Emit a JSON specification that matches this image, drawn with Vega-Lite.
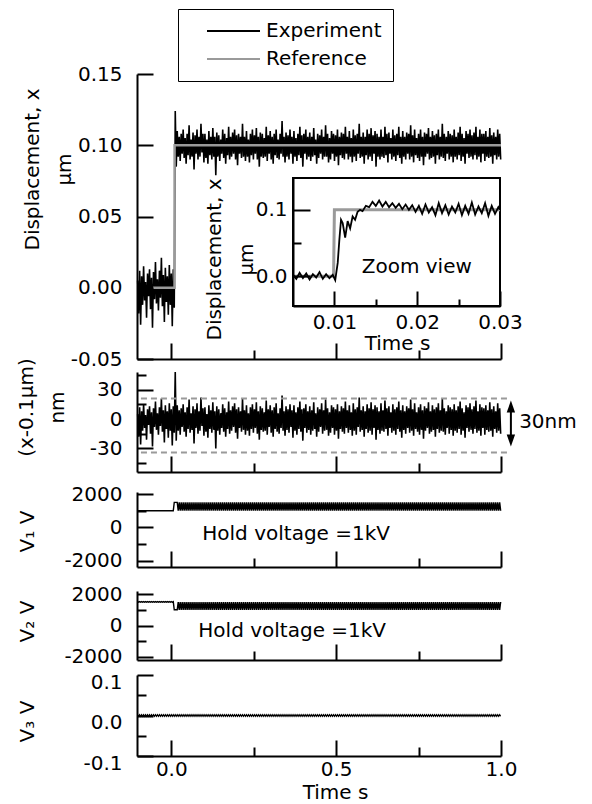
{
"$schema":"https://vega.github.io/schema/vega-lite/v6.json",
"padding":{"left":15,"top":8,"right":5,"bottom":5},
"config":{"font":"DejaVu Sans","view":{"stroke":null},
 "axis":{"domainColor":"black","domainWidth":2,"tickColor":"black","tickWidth":2,"labelColor":"black","labelFontSize":20,"labelFont":"DejaVu Sans","titleFont":"DejaVu Sans","titleFontSize":20,"titleFontWeight":"normal","titleColor":"black","grid":false,"labelFlush":false,"labelOverlap":false},
 "text":{"font":"DejaVu Sans","fontSize":20,"color":"black"}},
"datasets":{
 "ref":[{"t":-0.055,"x":0},{"t":0.0099,"x":0},{"t":0.01,"x":0.1},{"t":1,"x":0.1}],
 "zref":[{"t":0.005,"x":0},{"t":0.0099,"x":0},{"t":0.01,"x":0.1},{"t":0.03,"x":0.1}],
 "zoom":[{"t":0.005,"x":0.002},{"t":0.0054,"x":-0.004},{"t":0.0058,"x":0.005},{"t":0.0062,"x":-0.003},{"t":0.0066,"x":0.004},{"t":0.007,"x":-0.005},{"t":0.0074,"x":0.003},{"t":0.0078,"x":-0.002},{"t":0.0082,"x":0.006},{"t":0.0086,"x":-0.004},{"t":0.009,"x":0.003},{"t":0.0094,"x":-0.003},{"t":0.0098,"x":0.002},{"t":0.0101,"x":-0.006},{"t":0.0104,"x":0.02},{"t":0.0106,"x":0.055},{"t":0.0108,"x":0.085},{"t":0.011,"x":0.08},{"t":0.0113,"x":0.058},{"t":0.0116,"x":0.083},{"t":0.0119,"x":0.072},{"t":0.0122,"x":0.09},{"t":0.0125,"x":0.085},{"t":0.0128,"x":0.097},{"t":0.0131,"x":0.1},{"t":0.0134,"x":0.098},{"t":0.0138,"x":0.106},{"t":0.0142,"x":0.104},{"t":0.0146,"x":0.112},{"t":0.015,"x":0.106},{"t":0.0154,"x":0.114},{"t":0.0158,"x":0.105},{"t":0.0162,"x":0.112},{"t":0.0166,"x":0.104},{"t":0.017,"x":0.11},{"t":0.0174,"x":0.103},{"t":0.0178,"x":0.109},{"t":0.0182,"x":0.101},{"t":0.0186,"x":0.108},{"t":0.019,"x":0.1},{"t":0.0194,"x":0.107},{"t":0.0198,"x":0.097},{"t":0.0202,"x":0.106},{"t":0.0206,"x":0.094},{"t":0.021,"x":0.108},{"t":0.0214,"x":0.096},{"t":0.0218,"x":0.104},{"t":0.0222,"x":0.092},{"t":0.0226,"x":0.11},{"t":0.023,"x":0.095},{"t":0.0234,"x":0.107},{"t":0.0238,"x":0.093},{"t":0.0242,"x":0.105},{"t":0.0246,"x":0.096},{"t":0.025,"x":0.109},{"t":0.0254,"x":0.092},{"t":0.0258,"x":0.106},{"t":0.0262,"x":0.094},{"t":0.0266,"x":0.111},{"t":0.027,"x":0.093},{"t":0.0274,"x":0.105},{"t":0.0278,"x":0.095},{"t":0.0282,"x":0.11},{"t":0.0286,"x":0.091},{"t":0.029,"x":0.106},{"t":0.0294,"x":0.094},{"t":0.0298,"x":0.104},{"t":0.03,"x":0.1}]
},
"data":{"values":"t,x,e,a,b,c\n-0.102,0.005,5,1000,1520,0.002\n-0.099,-0.018,-18,1000,1480,-0.002\n-0.096,0.012,12,1000,1520,0.002\n-0.093,-0.026,-26,1000,1480,-0.002\n-0.09,0.008,8,1000,1520,0.002\n-0.087,-0.012,-12,1000,1480,-0.002\n-0.084,0.015,15,1000,1520,0.002\n-0.081,-0.009,-9,1000,1480,-0.002\n-0.078,0.004,4,1000,1520,0.002\n-0.075,-0.021,-21,1000,1480,-0.002\n-0.072,0.01,10,1000,1520,0.002\n-0.069,-0.006,-6,1000,1480,-0.002\n-0.066,0.013,13,1000,1520,0.002\n-0.063,-0.015,-15,1000,1480,-0.002\n-0.06,0.007,7,1000,1520,0.002\n-0.057,-0.028,-28,1000,1480,-0.002\n-0.054,0.011,11,1000,1520,0.002\n-0.051,-0.008,-8,1000,1480,-0.002\n-0.048,0.018,18,1000,1520,0.002\n-0.045,-0.011,-11,1000,1480,-0.002\n-0.042,0.006,6,1000,1520,0.002\n-0.039,-0.016,-16,1000,1480,-0.002\n-0.036,0.012,12,1000,1520,0.002\n-0.033,-0.007,-7,1000,1480,-0.002\n-0.03,0.021,21,1000,1520,0.002\n-0.027,-0.013,-13,1000,1480,-0.002\n-0.024,0.009,9,1000,1520,0.002\n-0.021,-0.024,-24,1000,1480,-0.002\n-0.018,0.014,14,1000,1520,0.002\n-0.015,-0.01,-10,1000,1480,-0.002\n-0.012,0.008,8,1000,1520,0.002\n-0.009,-0.019,-19,1000,1480,-0.002\n-0.006,0.016,16,1000,1520,0.002\n-0.003,-0.012,-12,1000,1480,-0.002\n0,0.01,10,1000,1520,0.002\n0.003,-0.027,-27,1000,1480,-0.002\n0.006,0.013,13,1000,1520,0.002\n0.009,-0.014,-14,1500,1000,-0.002\n0.012,0.124,48,1500,1000,0.002\n0.015,0.085,-22,1500,1000,-0.002\n0.018,0.11,14,1500,1000,0.002\n0.021,0.092,-12,1000,1500,-0.002\n0.024,0.106,9,1500,1000,0.002\n0.027,0.089,-16,1000,1500,-0.002\n0.03,0.108,11,1500,1000,0.002\n0.033,0.094,-8,1000,1500,-0.002\n0.036,0.111,15,1500,1000,0.002\n0.039,0.091,-13,1000,1500,-0.002\n0.042,0.105,7,1500,1000,0.002\n0.045,0.087,-18,1000,1500,-0.002\n0.048,0.108,12,1500,1000,0.002\n0.051,0.093,-10,1000,1500,-0.002\n0.054,0.114,20,1500,1000,0.002\n0.057,0.09,-14,1000,1500,-0.002\n0.06,0.104,6,1500,1000,0.002\n0.063,0.092,-11,1000,1500,-0.002\n0.066,0.109,13,1500,1000,0.002\n0.069,0.083,-25,1000,1500,-0.002\n0.072,0.107,10,1500,1000,0.002\n0.075,0.094,-9,1000,1500,-0.002\n0.078,0.111,16,1500,1000,0.002\n0.081,0.09,-15,1000,1500,-0.002\n0.084,0.106,8,1500,1000,0.002\n0.087,0.092,-12,1000,1500,-0.002\n0.09,0.115,22,1500,1000,0.002\n0.093,0.095,-7,1000,1500,-0.002\n0.096,0.108,11,1500,1000,0.002\n0.099,0.088,-17,1000,1500,-0.002\n0.102,0.108,12,1500,1000,0.002\n0.105,0.091,-13,1000,1500,-0.002\n0.108,0.104,5,1500,1000,0.002\n0.111,0.087,-19,1000,1500,-0.002\n0.114,0.11,14,1500,1000,0.002\n0.117,0.093,-10,1000,1500,-0.002\n0.12,0.106,9,1500,1000,0.002\n0.123,0.09,-14,1000,1500,-0.002\n0.126,0.112,17,1500,1000,0.002\n0.129,0.092,-11,1000,1500,-0.002\n0.132,0.106,8,1500,1000,0.002\n0.135,0.079,-30,1000,1500,-0.002\n0.138,0.109,13,1500,1000,0.002\n0.141,0.092,-12,1000,1500,-0.002\n0.144,0.107,10,1500,1000,0.002\n0.147,0.089,-16,1000,1500,-0.002\n0.15,0.104,6,1500,1000,0.002\n0.153,0.094,-9,1000,1500,-0.002\n0.156,0.111,15,1500,1000,0.002\n0.159,0.091,-13,1000,1500,-0.002\n0.162,0.108,11,1500,1000,0.002\n0.165,0.087,-18,1000,1500,-0.002\n0.168,0.105,7,1500,1000,0.002\n0.171,0.093,-10,1000,1500,-0.002\n0.174,0.113,18,1500,1000,0.002\n0.177,0.09,-15,1000,1500,-0.002\n0.18,0.106,9,1500,1000,0.002\n0.183,0.092,-12,1000,1500,-0.002\n0.186,0.109,13,1500,1000,0.002\n0.189,0.094,-8,1000,1500,-0.002\n0.192,0.111,16,1500,1000,0.002\n0.195,0.09,-14,1000,1500,-0.002\n0.198,0.107,10,1500,1000,0.002\n0.201,0.086,-20,1000,1500,-0.002\n0.204,0.108,12,1500,1000,0.002\n0.207,0.094,-9,1000,1500,-0.002\n0.21,0.106,8,1500,1000,0.002\n0.213,0.091,-13,1000,1500,-0.002\n0.216,0.115,21,1500,1000,0.002\n0.219,0.092,-11,1000,1500,-0.002\n0.222,0.106,9,1500,1000,0.002\n0.225,0.089,-16,1000,1500,-0.002\n0.228,0.11,14,1500,1000,0.002\n0.231,0.092,-12,1000,1500,-0.002\n0.234,0.104,6,1500,1000,0.002\n0.237,0.088,-17,1000,1500,-0.002\n0.24,0.108,12,1500,1000,0.002\n0.243,0.093,-10,1000,1500,-0.002\n0.246,0.111,15,1500,1000,0.002\n0.249,0.09,-14,1000,1500,-0.002\n0.252,0.107,10,1500,1000,0.002\n0.255,0.094,-9,1000,1500,-0.002\n0.258,0.112,17,1500,1000,0.002\n0.261,0.09,-15,1000,1500,-0.002\n0.264,0.106,8,1500,1000,0.002\n0.267,0.085,-21,1000,1500,-0.002\n0.27,0.109,13,1500,1000,0.002\n0.273,0.092,-11,1000,1500,-0.002\n0.276,0.108,11,1500,1000,0.002\n0.279,0.091,-13,1000,1500,-0.002\n0.282,0.105,7,1500,1000,0.002\n0.285,0.092,-12,1000,1500,-0.002\n0.288,0.113,19,1500,1000,0.002\n0.291,0.089,-16,1000,1500,-0.002\n0.294,0.107,10,1500,1000,0.002\n0.297,0.094,-8,1000,1500,-0.002\n0.3,0.11,14,1500,1000,0.002\n0.303,0.09,-14,1000,1500,-0.002\n0.306,0.106,9,1500,1000,0.002\n0.309,0.087,-18,1000,1500,-0.002\n0.312,0.108,12,1500,1000,0.002\n0.315,0.093,-10,1000,1500,-0.002\n0.318,0.111,16,1500,1000,0.002\n0.321,0.091,-13,1000,1500,-0.002\n0.324,0.104,6,1500,1000,0.002\n0.327,0.09,-15,1000,1500,-0.002\n0.33,0.108,11,1500,1000,0.002\n0.333,0.094,-9,1000,1500,-0.002\n0.336,0.117,24,1500,1000,0.002\n0.339,0.092,-12,1000,1500,-0.002\n0.342,0.106,8,1500,1000,0.002\n0.345,0.088,-17,1000,1500,-0.002\n0.348,0.109,13,1500,1000,0.002\n0.351,0.092,-11,1000,1500,-0.002\n0.354,0.107,10,1500,1000,0.002\n0.357,0.09,-14,1000,1500,-0.002\n0.36,0.111,15,1500,1000,0.002\n0.363,0.094,-8,1000,1500,-0.002\n0.366,0.106,9,1500,1000,0.002\n0.369,0.087,-19,1000,1500,-0.002\n0.372,0.11,14,1500,1000,0.002\n0.375,0.092,-12,1000,1500,-0.002\n0.378,0.105,7,1500,1000,0.002\n0.381,0.089,-16,1000,1500,-0.002\n0.384,0.108,12,1500,1000,0.002\n0.387,0.093,-10,1000,1500,-0.002\n0.39,0.113,18,1500,1000,0.002\n0.393,0.091,-13,1000,1500,-0.002\n0.396,0.107,10,1500,1000,0.002\n0.399,0.085,-22,1000,1500,-0.002\n0.402,0.108,11,1500,1000,0.002\n0.405,0.094,-9,1000,1500,-0.002\n0.408,0.111,15,1500,1000,0.002\n0.411,0.09,-14,1000,1500,-0.002\n0.414,0.106,8,1500,1000,0.002\n0.417,0.092,-11,1000,1500,-0.002\n0.42,0.109,13,1500,1000,0.002\n0.423,0.089,-16,1000,1500,-0.002\n0.426,0.106,9,1500,1000,0.002\n0.429,0.092,-12,1000,1500,-0.002\n0.432,0.112,17,1500,1000,0.002\n0.435,0.093,-10,1000,1500,-0.002\n0.438,0.104,6,1500,1000,0.002\n0.441,0.087,-18,1000,1500,-0.002\n0.444,0.108,12,1500,1000,0.002\n0.447,0.091,-13,1000,1500,-0.002\n0.45,0.107,10,1500,1000,0.002\n0.453,0.094,-8,1000,1500,-0.002\n0.456,0.111,16,1500,1000,0.002\n0.459,0.09,-15,1000,1500,-0.002\n0.462,0.106,9,1500,1000,0.002\n0.465,0.092,-12,1000,1500,-0.002\n0.468,0.114,20,1500,1000,0.002\n0.471,0.092,-11,1000,1500,-0.002\n0.474,0.108,11,1500,1000,0.002\n0.477,0.088,-17,1000,1500,-0.002\n0.48,0.105,7,1500,1000,0.002\n0.483,0.09,-14,1000,1500,-0.002\n0.486,0.11,14,1500,1000,0.002\n0.489,0.094,-9,1000,1500,-0.002\n0.492,0.108,12,1500,1000,0.002\n0.495,0.089,-16,1000,1500,-0.002\n0.498,0.107,10,1500,1000,0.002\n0.501,0.092,-12,1000,1500,-0.002\n0.504,0.111,15,1500,1000,0.002\n0.507,0.086,-20,1000,1500,-0.002\n0.51,0.106,8,1500,1000,0.002\n0.513,0.093,-10,1000,1500,-0.002\n0.516,0.109,13,1500,1000,0.002\n0.519,0.091,-13,1000,1500,-0.002\n0.522,0.108,11,1500,1000,0.002\n0.525,0.09,-15,1000,1500,-0.002\n0.528,0.113,18,1500,1000,0.002\n0.531,0.094,-9,1000,1500,-0.002\n0.534,0.106,9,1500,1000,0.002\n0.537,0.09,-14,1000,1500,-0.002\n0.54,0.11,14,1500,1000,0.002\n0.543,0.092,-11,1000,1500,-0.002\n0.546,0.105,7,1500,1000,0.002\n0.549,0.088,-17,1000,1500,-0.002\n0.552,0.111,16,1500,1000,0.002\n0.555,0.092,-12,1000,1500,-0.002\n0.558,0.107,10,1500,1000,0.002\n0.561,0.089,-16,1000,1500,-0.002\n0.564,0.108,12,1500,1000,0.002\n0.567,0.094,-8,1000,1500,-0.002\n0.57,0.115,22,1500,1000,0.002\n0.573,0.091,-13,1000,1500,-0.002\n0.576,0.106,9,1500,1000,0.002\n0.579,0.092,-11,1000,1500,-0.002\n0.582,0.109,13,1500,1000,0.002\n0.585,0.087,-18,1000,1500,-0.002\n0.588,0.106,8,1500,1000,0.002\n0.591,0.093,-10,1000,1500,-0.002\n0.594,0.111,15,1500,1000,0.002\n0.597,0.09,-14,1000,1500,-0.002\n0.6,0.108,11,1500,1000,0.002\n0.603,0.092,-12,1000,1500,-0.002\n0.606,0.112,17,1500,1000,0.002\n0.609,0.089,-16,1000,1500,-0.002\n0.612,0.107,10,1500,1000,0.002\n0.615,0.094,-9,1000,1500,-0.002\n0.618,0.11,14,1500,1000,0.002\n0.621,0.085,-21,1000,1500,-0.002\n0.624,0.108,12,1500,1000,0.002\n0.627,0.092,-11,1000,1500,-0.002\n0.63,0.106,8,1500,1000,0.002\n0.633,0.09,-15,1000,1500,-0.002\n0.636,0.111,16,1500,1000,0.002\n0.639,0.092,-12,1000,1500,-0.002\n0.642,0.106,9,1500,1000,0.002\n0.645,0.091,-13,1000,1500,-0.002\n0.648,0.113,19,1500,1000,0.002\n0.651,0.093,-10,1000,1500,-0.002\n0.654,0.108,11,1500,1000,0.002\n0.657,0.088,-17,1000,1500,-0.002\n0.66,0.109,13,1500,1000,0.002\n0.663,0.094,-9,1000,1500,-0.002\n0.666,0.105,7,1500,1000,0.002\n0.669,0.09,-14,1000,1500,-0.002\n0.672,0.111,15,1500,1000,0.002\n0.675,0.092,-12,1000,1500,-0.002\n0.678,0.107,10,1500,1000,0.002\n0.681,0.089,-16,1000,1500,-0.002\n0.684,0.108,12,1500,1000,0.002\n0.687,0.093,-10,1000,1500,-0.002\n0.69,0.113,18,1500,1000,0.002\n0.693,0.091,-13,1000,1500,-0.002\n0.696,0.106,9,1500,1000,0.002\n0.699,0.087,-19,1000,1500,-0.002\n0.702,0.11,14,1500,1000,0.002\n0.705,0.092,-11,1000,1500,-0.002\n0.708,0.106,8,1500,1000,0.002\n0.711,0.09,-15,1000,1500,-0.002\n0.714,0.109,13,1500,1000,0.002\n0.717,0.094,-9,1000,1500,-0.002\n0.72,0.108,11,1500,1000,0.002\n0.723,0.09,-14,1000,1500,-0.002\n0.726,0.114,20,1500,1000,0.002\n0.729,0.092,-12,1000,1500,-0.002\n0.732,0.107,10,1500,1000,0.002\n0.735,0.088,-17,1000,1500,-0.002\n0.738,0.111,16,1500,1000,0.002\n0.741,0.093,-10,1000,1500,-0.002\n0.744,0.105,7,1500,1000,0.002\n0.747,0.091,-13,1000,1500,-0.002\n0.75,0.108,12,1500,1000,0.002\n0.753,0.089,-16,1000,1500,-0.002\n0.756,0.111,15,1500,1000,0.002\n0.759,0.092,-11,1000,1500,-0.002\n0.762,0.106,9,1500,1000,0.002\n0.765,0.086,-20,1000,1500,-0.002\n0.768,0.109,13,1500,1000,0.002\n0.771,0.092,-12,1000,1500,-0.002\n0.774,0.108,11,1500,1000,0.002\n0.777,0.094,-9,1000,1500,-0.002\n0.78,0.112,17,1500,1000,0.002\n0.783,0.09,-15,1000,1500,-0.002\n0.786,0.106,8,1500,1000,0.002\n0.789,0.091,-13,1000,1500,-0.002\n0.792,0.11,14,1500,1000,0.002\n0.795,0.092,-11,1000,1500,-0.002\n0.798,0.107,10,1500,1000,0.002\n0.801,0.087,-18,1000,1500,-0.002\n0.804,0.108,12,1500,1000,0.002\n0.807,0.093,-10,1000,1500,-0.002\n0.81,0.111,16,1500,1000,0.002\n0.813,0.09,-14,1000,1500,-0.002\n0.816,0.106,9,1500,1000,0.002\n0.819,0.092,-12,1000,1500,-0.002\n0.822,0.115,21,1500,1000,0.002\n0.825,0.091,-13,1000,1500,-0.002\n0.828,0.108,11,1500,1000,0.002\n0.831,0.089,-16,1000,1500,-0.002\n0.834,0.106,8,1500,1000,0.002\n0.837,0.094,-9,1000,1500,-0.002\n0.84,0.11,14,1500,1000,0.002\n0.843,0.09,-15,1000,1500,-0.002\n0.846,0.108,12,1500,1000,0.002\n0.849,0.092,-11,1000,1500,-0.002\n0.852,0.107,10,1500,1000,0.002\n0.855,0.088,-17,1000,1500,-0.002\n0.858,0.111,15,1500,1000,0.002\n0.861,0.092,-12,1000,1500,-0.002\n0.864,0.106,9,1500,1000,0.002\n0.867,0.09,-14,1000,1500,-0.002\n0.87,0.109,13,1500,1000,0.002\n0.873,0.093,-10,1000,1500,-0.002\n0.876,0.113,18,1500,1000,0.002\n0.879,0.089,-16,1000,1500,-0.002\n0.882,0.108,11,1500,1000,0.002\n0.885,0.092,-12,1000,1500,-0.002\n0.888,0.105,7,1500,1000,0.002\n0.891,0.087,-19,1000,1500,-0.002\n0.894,0.11,14,1500,1000,0.002\n0.897,0.094,-9,1000,1500,-0.002\n0.9,0.108,12,1500,1000,0.002\n0.903,0.091,-13,1000,1500,-0.002\n0.906,0.111,16,1500,1000,0.002\n0.909,0.092,-11,1000,1500,-0.002\n0.912,0.107,10,1500,1000,0.002\n0.915,0.09,-15,1000,1500,-0.002\n0.918,0.109,13,1500,1000,0.002\n0.921,0.093,-10,1000,1500,-0.002\n0.924,0.113,19,1500,1000,0.002\n0.927,0.09,-14,1000,1500,-0.002\n0.93,0.106,8,1500,1000,0.002\n0.933,0.092,-12,1000,1500,-0.002\n0.936,0.111,15,1500,1000,0.002\n0.939,0.088,-17,1000,1500,-0.002\n0.942,0.108,12,1500,1000,0.002\n0.945,0.094,-9,1000,1500,-0.002\n0.948,0.108,11,1500,1000,0.002\n0.951,0.089,-16,1000,1500,-0.002\n0.954,0.11,14,1500,1000,0.002\n0.957,0.092,-11,1000,1500,-0.002\n0.96,0.106,9,1500,1000,0.002\n0.963,0.091,-13,1000,1500,-0.002\n0.966,0.112,17,1500,1000,0.002\n0.969,0.092,-12,1000,1500,-0.002\n0.972,0.107,10,1500,1000,0.002\n0.975,0.087,-18,1000,1500,-0.002\n0.978,0.109,13,1500,1000,0.002\n0.981,0.093,-10,1000,1500,-0.002\n0.984,0.106,8,1500,1000,0.002\n0.987,0.09,-14,1000,1500,-0.002\n0.99,0.111,16,1500,1000,0.002\n0.993,0.092,-12,1000,1500,-0.002\n0.996,0.108,11,1500,1000,0.002\n0.999,0.09,-15,1000,1500,-0.002","format":{"type":"csv","parse":{"t":"number","x":"number","e":"number","a":"number","b":"number","c":"number"}}},
"bounds":"flush",
"spacing":13,
"vconcat":[
 {"width":364,"height":285,
  "layer":[
   {"layer":[
     {"mark":{"type":"line","strokeWidth":1.6},
      "encoding":{
       "x":{"field":"t","type":"quantitative","scale":{"domain":[-0.104,1],"nice":false,"zero":false},"axis":{"values":[0,0.25,0.5,0.75,1],"labels":false,"title":null,"zindex":1,"tickSize":{"condition":{"test":"abs(datum.value*2-round(datum.value*2))<0.01","value":-16},"value":-9}}},
       "y":{"field":"x","type":"quantitative","scale":{"domain":[-0.05,0.15],"nice":false,"zero":false},"axis":{"values":[-0.05,-0.025,0,0.025,0.05,0.075,0.1,0.125,0.15],"zindex":1,"labelExpr":"abs(datum.value*20-round(datum.value*20))>0.01 ? '' : datum.value < 0 ? '-' + format(-datum.value,'.2f') : format(datum.value,'.2f')","labelPadding":31,"tickSize":{"condition":{"test":"abs(datum.value*20-round(datum.value*20))<0.01","value":-16},"value":-9},"title":["Displacement, x","µm"],"titleX":-105,"titleY":95,"titleAlign":"center","titleBaseline":"middle","titleLineHeight":32}},
       "color":{"datum":"Experiment","type":"nominal","scale":{"domain":["Experiment","Reference"],"range":["black","#9a9a9a"]},"legend":{"orient":"none","legendX":41,"legendY":-65,"title":null,"symbolType":"stroke","symbolSize":2809,"symbolStrokeWidth":2,"labelFontSize":20,"labelFont":"DejaVu Sans","labelColor":"black","strokeColor":"black","fillColor":"white","padding":11,"clipHeight":22,"rowPadding":6,"symbolOffset":17,"labelOffset":5}}}},
     {"data":{"name":"ref"},"mark":{"type":"line","strokeWidth":2.5},
      "encoding":{"x":{"field":"t","type":"quantitative"},"y":{"field":"x","type":"quantitative"},"color":{"datum":"Reference","type":"nominal"}}}
   ]},
   {"layer":[
     {"data":{"values":[{}]},"mark":{"type":"rect","fill":"white","stroke":"black","strokeWidth":2},
      "encoding":{
       "x":{"datum":0.005,"type":"quantitative","scale":{"domain":[0.005,0.03],"range":[156,363],"nice":false,"zero":false},"axis":{"orient":"bottom","offset":-53,"zindex":1,"values":[0.01,0.015,0.02,0.025,0.03],"labelExpr":"abs(datum.value*100-round(datum.value*100))<0.01 ? format(datum.value,'.2f') : ''","labelPadding":21,"tickSize":{"condition":{"test":"abs(datum.value*100-round(datum.value*100))<0.01","value":-15},"value":-7},"title":"Time s","titleX":260,"titleY":37,"titleBaseline":"middle"}},
       "x2":{"datum":0.03},
       "y":{"datum":-0.045,"type":"quantitative","scale":{"domain":[-0.045,0.148],"range":[232,104],"nice":false,"zero":false},"axis":{"orient":"left","offset":-156,"zindex":1,"values":[0,0.05,0.1],"labelExpr":"abs(datum.value*10-round(datum.value*10))<0.01 ? format(datum.value,'.1f') : ''","labelPadding":23,"tickSize":{"condition":{"test":"abs(datum.value*10-round(datum.value*10))<0.01","value":-17},"value":-8},"title":["Displacement, x","µm"],"titleX":-79,"titleY":185,"titleAlign":"center","titleBaseline":"middle","titleLineHeight":32}},
       "y2":{"datum":0.148}}},
     {"data":{"name":"zref"},"mark":{"type":"line","color":"#9a9a9a","strokeWidth":3},
      "encoding":{"x":{"field":"t","type":"quantitative"},"y":{"field":"x","type":"quantitative"}}},
     {"data":{"name":"zoom"},"mark":{"type":"line","color":"black","strokeWidth":1.8},
      "encoding":{"x":{"field":"t","type":"quantitative"},"y":{"field":"x","type":"quantitative"}}},
     {"data":{"values":[{}]},"mark":{"type":"text","align":"left","baseline":"middle"},
      "encoding":{"x":{"datum":0.0133,"type":"quantitative"},"y":{"datum":0.0136,"type":"quantitative"},"text":{"value":"Zoom view"}}}
   ]}
  ],
  "resolve":{"scale":{"x":"independent","y":"independent"}}
 },
 {"width":364,"height":384,
  "layer":[
   {"layer":[
     {"mark":{"type":"line","strokeWidth":1.6,"color":"black"},
      "encoding":{
       "x":{"field":"t","type":"quantitative","scale":{"domain":[-0.104,1],"nice":false,"zero":false},"axis":{"orient":"bottom","offset":-284,"values":[0,0.25,0.5,0.75,1],"labels":false,"title":null,"zindex":1,"tickSize":{"condition":{"test":"abs(datum.value*2-round(datum.value*2))<0.01","value":-16},"value":-9}}},
       "y":{"field":"e","type":"quantitative","scale":{"domain":[-54,48],"range":[100,0],"nice":false,"zero":false},"axis":{"orient":"left","values":[-45,-30,-15,0,15,30,45],"zindex":1,"labelExpr":"datum.value % 30 != 0 ? '' : datum.value < 0 ? '-' + (-datum.value) : '' + datum.value","labelPadding":31,"tickSize":{"condition":{"test":"datum.value % 30 == 0","value":-16},"value":-9},"title":["(x-0.1µm)","nm"],"titleX":-111,"titleY":35,"titleAlign":"center","titleBaseline":"middle","titleLineHeight":31}}}},
     {"data":{"values":[{}]},"mark":{"type":"rule","color":"#9a9a9a","strokeWidth":2,"strokeDash":[6,4]},
      "encoding":{"x":{"datum":-0.092,"type":"quantitative"},"x2":{"datum":1.02},"y":{"datum":21,"type":"quantitative"}}},
     {"data":{"values":[{}]},"mark":{"type":"rule","color":"#9a9a9a","strokeWidth":2,"strokeDash":[6,4]},
      "encoding":{"x":{"datum":-0.092,"type":"quantitative"},"x2":{"datum":1.02},"y":{"datum":-34,"type":"quantitative"}}},
     {"data":{"values":[{}]},"mark":{"type":"rule","color":"black","strokeWidth":2},
      "encoding":{"x":{"datum":1.03,"type":"quantitative"},"y":{"datum":12.7,"type":"quantitative"},"y2":{"datum":-21.9}}},
     {"data":{"values":[{}]},"mark":{"type":"point","shape":"M0,-1L0.7,1L-0.7,1Z","filled":true,"size":144,"color":"black","opacity":1},
      "encoding":{"x":{"datum":1.03,"type":"quantitative"},"y":{"datum":12.7,"type":"quantitative"}}},
     {"data":{"values":[{}]},"mark":{"type":"point","shape":"M0,1L0.7,-1L-0.7,-1Z","filled":true,"size":144,"color":"black","opacity":1},
      "encoding":{"x":{"datum":1.03,"type":"quantitative"},"y":{"datum":-21.9,"type":"quantitative"}}},
     {"data":{"values":[{}]},"mark":{"type":"text","align":"left","baseline":"middle"},
      "encoding":{"x":{"datum":1.055,"type":"quantitative"},"y":{"datum":-3,"type":"quantitative"},"text":{"value":"30nm"}}}
   ]},
   {"layer":[
     {"mark":{"type":"line","strokeWidth":1.4,"color":"black"},
      "encoding":{
       "x":{"field":"t","type":"quantitative","scale":{"domain":[-0.104,1],"nice":false,"zero":false},"axis":{"orient":"bottom","offset":-189,"values":[0,0.25,0.5,0.75,1],"labels":false,"title":null,"zindex":1,"tickSize":{"condition":{"test":"abs(datum.value*2-round(datum.value*2))<0.01","value":-16},"value":-9}}},
       "y":{"field":"a","type":"quantitative","scale":{"domain":[-2360,2120],"range":[195,120],"nice":false,"zero":false},"axis":{"orient":"left","values":[-2000,-1000,0,1000,2000],"zindex":1,"labelExpr":"datum.value % 2000 != 0 ? '' : datum.value < 0 ? '-' + (-datum.value) : '' + datum.value","labelPadding":31,"tickSize":{"condition":{"test":"datum.value % 2000 == 0","value":-16},"value":-9},"title":"V₁ V","titleX":-110,"titleY":159,"titleAlign":"center","titleBaseline":"middle"}}}},
     {"data":{"values":[{}]},"mark":{"type":"text","align":"left","baseline":"middle"},
      "encoding":{"x":{"datum":0.094,"type":"quantitative"},"y":{"datum":-390,"type":"quantitative"},"text":{"value":"Hold voltage =1kV"}}}
   ]},
   {"layer":[
     {"mark":{"type":"line","strokeWidth":1.4,"color":"black"},
      "encoding":{
       "x":{"field":"t","type":"quantitative","scale":{"domain":[-0.104,1],"nice":false,"zero":false},"axis":{"orient":"bottom","offset":-96,"values":[0,0.25,0.5,0.75,1],"labels":false,"title":null,"zindex":1,"tickSize":{"condition":{"test":"abs(datum.value*2-round(datum.value*2))<0.01","value":-16},"value":-9}}},
       "y":{"field":"b","type":"quantitative","scale":{"domain":[-2200,2200],"range":[288,219],"nice":false,"zero":false},"axis":{"orient":"left","values":[-2000,-1000,0,1000,2000],"zindex":1,"labelExpr":"datum.value % 2000 != 0 ? '' : datum.value < 0 ? '-' + (-datum.value) : '' + datum.value","labelPadding":31,"tickSize":{"condition":{"test":"datum.value % 2000 == 0","value":-16},"value":-9},"title":"V₂ V","titleX":-110,"titleY":249,"titleAlign":"center","titleBaseline":"middle"}}}},
     {"data":{"values":[{}]},"mark":{"type":"text","align":"left","baseline":"middle"},
      "encoding":{"x":{"datum":0.082,"type":"quantitative"},"y":{"datum":-350,"type":"quantitative"},"text":{"value":"Hold voltage =1kV"}}}
   ]},
   {"mark":{"type":"line","strokeWidth":1.2,"color":"black"},
    "encoding":{
     "x":{"field":"t","type":"quantitative","scale":{"domain":[-0.104,1],"nice":false,"zero":false},"axis":{"orient":"bottom","values":[0,0.25,0.5,0.75,1],"zindex":1,"labelExpr":"abs(datum.value*2-round(datum.value*2))<0.01 ? format(datum.value,'.1f') : ''","labelPadding":19,"tickSize":{"condition":{"test":"abs(datum.value*2-round(datum.value*2))<0.01","value":-16},"value":-9},"title":"Time s","titleX":198,"titleY":36,"titleBaseline":"middle"}},
     "y":{"field":"c","type":"quantitative","scale":{"domain":[-0.1,0.1],"range":[384,303],"nice":false,"zero":false},"axis":{"orient":"left","values":[-0.1,-0.05,0,0.05,0.1],"zindex":1,"labelOffset":7,"labelExpr":"abs(datum.value*10-round(datum.value*10))>0.01 ? '' : datum.value < 0 ? '-' + format(-datum.value,'.1f') : format(datum.value,'.1f')","labelPadding":31,"tickSize":{"condition":{"test":"abs(datum.value*10-round(datum.value*10))<0.01","value":-16},"value":-9},"title":"V₃ V","titleX":-110,"titleY":349,"titleAlign":"center","titleBaseline":"middle"}}}}
  ],
  "resolve":{"scale":{"x":"independent","y":"independent"}}
 }
]
}
